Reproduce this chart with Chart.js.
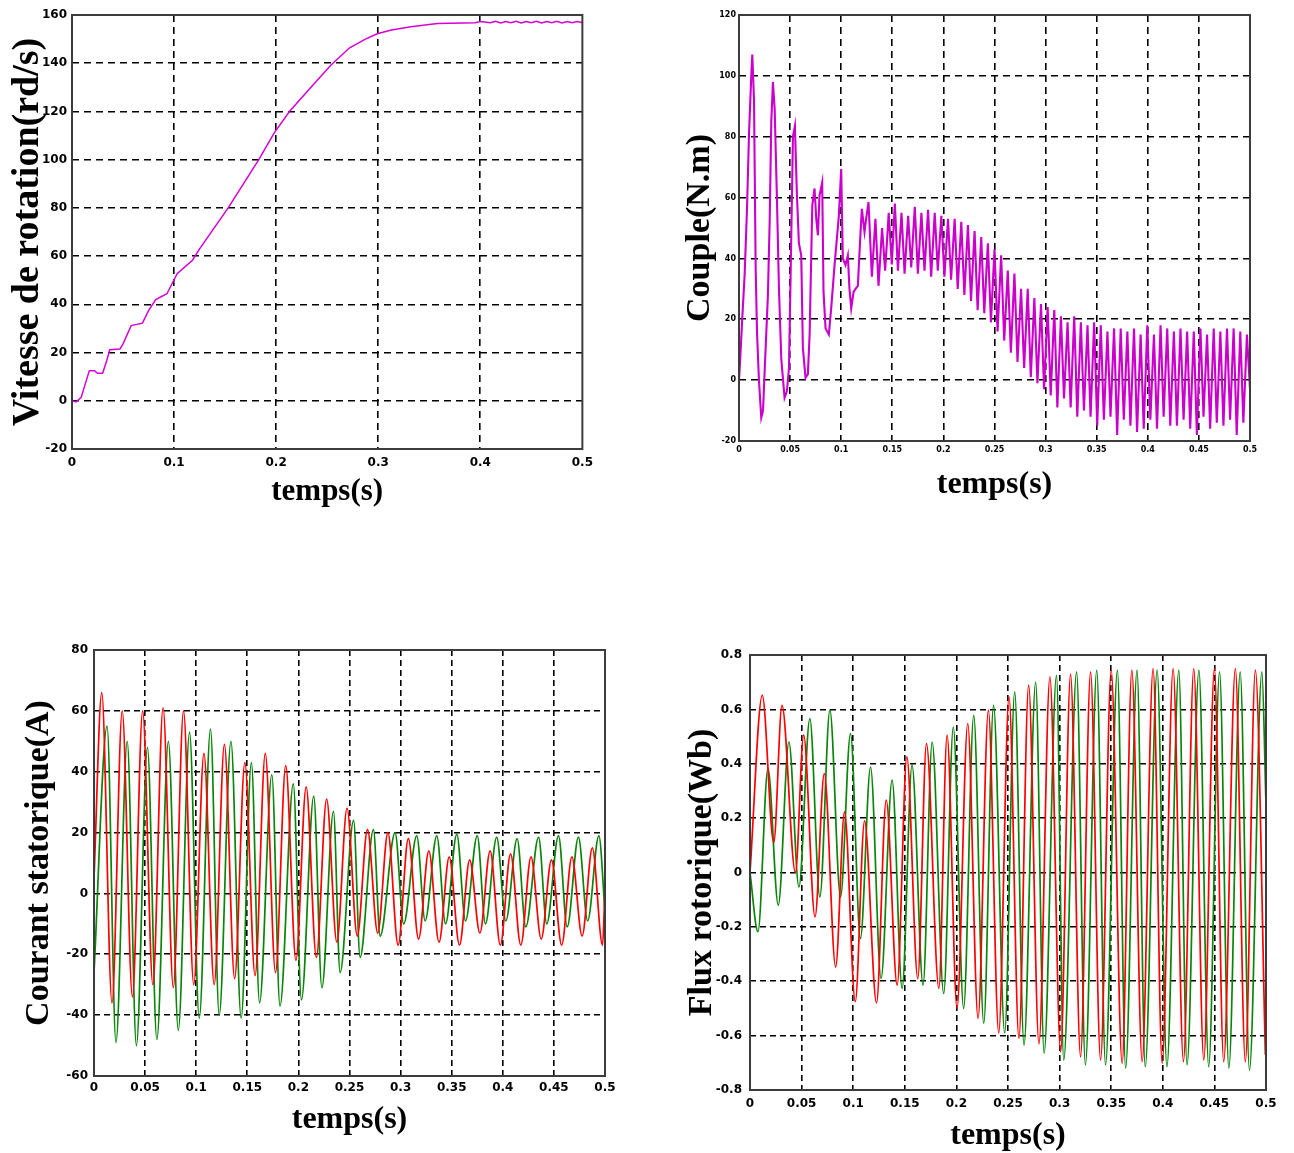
<!DOCTYPE html>
<html>
<head>
<meta charset="utf-8">
<title>Démarrage de la machine asynchrone</title>
<script src="https://cdn.jsdelivr.net/npm/chart.js@4.4.1/dist/chart.umd.min.js"></script>
<style>
  html, body { margin: 0; padding: 0; background: #ffffff; width: 1294px; height: 1153px; overflow: hidden; }
  canvas { position: absolute; }
</style>
</head>
<body>
<canvas id="cSpeed"  width="600" height="520" style="left:0px;top:0px"></canvas>
<canvas id="cTorque" width="620" height="520" style="left:660px;top:0px"></canvas>
<canvas id="cCurrent" width="640" height="553" style="left:0px;top:600px"></canvas>
<canvas id="cFlux"   width="634" height="560" style="left:660px;top:600px"></canvas>
<script>
// ---------- Vitesse de rotation (rd/s) ----------
const speedTime = [0, 0.004, 0.009, 0.013, 0.017, 0.022, 0.025, 0.030, 0.034, 0.037,
  0.047, 0.050, 0.058, 0.069, 0.075, 0.082, 0.093, 0.103, 0.118, 0.125,
  0.153, 0.183, 0.198, 0.213, 0.235, 0.254, 0.272, 0.287, 0.299, 0.313,
  0.332, 0.358, 0.395, 0.400, 0.410, 0.415, 0.420, 0.425, 0.430, 0.435,
  0.440, 0.445, 0.450, 0.455, 0.460, 0.465, 0.470, 0.475, 0.480, 0.485,
  0.490, 0.495, 0.500];
const speedValue = [0, -0.5, 1.4, 7, 12.5, 12.5, 11.4, 11.4, 16.6, 21.2,
  21.5, 23.6, 31.2, 32.2, 37.4, 42, 44.4, 52.7, 58.3, 63,
  80, 100, 111, 120, 130.4, 139.4, 146.4, 149.9, 152.2, 153.8,
  155.1, 156.5, 156.8, 157.3, 156.8, 157.4, 156.7, 157.3, 156.8, 157.4,
  156.7, 157.3, 156.8, 157.4, 156.7, 157.3, 156.8, 157.4, 156.7, 157.3,
  156.8, 157.3, 156.8];

// ---------- Couple électromagnétique (N.m) ----------
const torqueTime = [0, 0.0013, 0.0033, 0.0055, 0.0078, 0.0098, 0.0120, 0.0130, 0.0147, 0.0163,
  0.0176, 0.0195, 0.0218, 0.0235, 0.0251, 0.0283, 0.0300, 0.0316, 0.0332, 0.0349,
  0.0371, 0.0391, 0.0414, 0.0446, 0.0469, 0.0489, 0.0505, 0.0528, 0.0547, 0.0567,
  0.0586, 0.0609, 0.0625, 0.0651, 0.0674, 0.0691, 0.0717, 0.0739, 0.0756, 0.0772,
  0.0788, 0.0814, 0.0827, 0.0847, 0.0879, 0.0902, 0.0935, 0.0977, 0.1000, 0.1016,
  0.1042, 0.1065, 0.1081, 0.1098, 0.1121, 0.1140, 0.1163, 0.1186, 0.1202, 0.1228,
  0.1244, 0.1267, 0.1300, 0.1335, 0.1365, 0.1400, 0.1430, 0.1465, 0.1495, 0.1525,
  0.1555, 0.1590, 0.1620, 0.1655, 0.1685, 0.1720, 0.1750, 0.1785, 0.1815, 0.1850,
  0.1880, 0.1915, 0.1945, 0.1980, 0.2010, 0.2045, 0.2075, 0.2110, 0.2140, 0.2175,
  0.2205, 0.2240, 0.2270, 0.2305, 0.2335, 0.2370, 0.2400, 0.2435, 0.2465, 0.2500,
  0.2530, 0.2565, 0.2595, 0.2630, 0.2660, 0.2695, 0.2725, 0.2760, 0.2790, 0.2825,
  0.2855, 0.2890, 0.2920, 0.2955, 0.2985, 0.3020, 0.3050, 0.3085, 0.3115, 0.3150,
  0.3180, 0.3215, 0.3245, 0.3280, 0.3310, 0.3345, 0.3375, 0.3410, 0.3440, 0.3475,
  0.3505, 0.3540, 0.3570, 0.3605, 0.3635, 0.3670, 0.3700, 0.3735, 0.3765, 0.3800,
  0.3830, 0.3865, 0.3895, 0.3930, 0.3960, 0.3995, 0.4025, 0.4060, 0.4090, 0.4125,
  0.4155, 0.4190, 0.4220, 0.4255, 0.4285, 0.4320, 0.4350, 0.4385, 0.4415, 0.4450,
  0.4480, 0.4515, 0.4545, 0.4580, 0.4610, 0.4645, 0.4675, 0.4710, 0.4740, 0.4775,
  0.4805, 0.4840, 0.4870, 0.4905, 0.4935, 0.4970, 0.5000];
const torqueValue = [0, 7.8, 21, 34.5, 56, 81, 100, 107, 92, 37,
  16, 0, -12.3, -10, 3, 28, 52, 85, 98, 89,
  60, 30, 6.8, -5.8, -3.6, 4, 34.5, 80, 83.5, 60.7,
  45, 41, 10.6, 0.8, 2, 15, 57.4, 63, 53, 47.6,
  60.7, 65, 29, 17, 15, 23.6, 37.8, 54, 69.4, 40,
  37.8, 41, 30, 23.6, 29, 30, 31, 46.5, 56.3, 48.7,
  53, 58.5, 34, 53, 31, 50, 36, 55, 38, 58,
  36, 55, 35, 54, 37, 57, 35, 55, 36, 56,
  34, 55, 36, 54, 34, 53, 33, 53, 30, 52,
  28, 51, 26, 49, 23, 47, 22, 45, 19, 43,
  16, 41, 13, 36, 9, 35, 6, 30, 4, 30,
  1, 27, -1, 25, -3, 24, -5, 23, -9, 21,
  -6, 19, -9, 21, -12, 19, -10, 18, -12, 19,
  -15, 18, -13, 16, -12, 17, -18, 17, -13, 16,
  -15, 17, -17, 15, -16, 18, -13, 15, -16, 18,
  -12, 17, -15, 16, -15, 17, -13, 16, -16, 16,
  -18, 17, -12, 15, -16, 17, -14, 16, -15, 17,
  -13, 17, -18, 16, -14, 15, -3];

// ---------- Courant statorique (A) : phases a (rouge) et b (vert) ----------
const currentTimeA = [0, 0.0076, 0.0176, 0.0276, 0.0376, 0.0476, 0.0576, 0.0676, 0.0776, 0.0876,
  0.0976, 0.1076, 0.1176, 0.1276, 0.1376, 0.1476, 0.1576, 0.1676, 0.1776, 0.1876,
  0.1976, 0.2076, 0.2176, 0.2276, 0.2376, 0.2476, 0.2576, 0.2676, 0.2776, 0.2876,
  0.2976, 0.3076, 0.3176, 0.3276, 0.3376, 0.3476, 0.3576, 0.3676, 0.3776, 0.3876,
  0.3976, 0.4076, 0.4176, 0.4276, 0.4376, 0.4476, 0.4576, 0.4676, 0.4776, 0.4876,
  0.4976, 0.5000];
const currentValueA = [5, 66, -36, 60, -34, 60, -30, 61, -31, 60,
  -30, 46, -30, 49, -28, 43, -27, 46, -26, 42,
  -22, 35, -21, 31, -16, 28, -14, 21, -13, 20,
  -17, 18, -15, 14, -16, 12, -17, 11, -13, 14,
  -17, 13, -17, 12, -15, 11, -17, 12, -14, 15,
  -17, 2];
const currentTimeB = [0, 0.0128, 0.0215, 0.0325, 0.0415, 0.0523, 0.0615, 0.0728, 0.0825, 0.0935,
  0.1030, 0.1140, 0.1225, 0.1340, 0.1440, 0.1540, 0.1620, 0.1740, 0.1820, 0.1950,
  0.2030, 0.2150, 0.2230, 0.2343, 0.2408, 0.2540, 0.2604, 0.2734, 0.2800, 0.2946,
  0.3030, 0.3158, 0.3240, 0.3354, 0.3440, 0.3550, 0.3635, 0.3750, 0.3830, 0.3940,
  0.4030, 0.4140, 0.4225, 0.4350, 0.4430, 0.4545, 0.4630, 0.4740, 0.4830, 0.4940,
  0.5000];
const currentValueB = [-26, 55, -49, 50, -50, 48, -48, 50, -45, 53,
  -41, 54, -40, 50, -41, 43, -36, 39, -37, 36,
  -35, 32, -31, 27, -26, 24, -21, 21, -14, 20,
  -10, 19, -9, 19, -10, 19.5, -9, 19, -10, 18.5,
  -9, 18, -11, 18.5, -10, 19, -11, 18.5, -9, 19,
  -6];

// ---------- Flux rotorique (Wb) : composantes rouge et verte ----------
const fluxTimeA = [0, 0.0119, 0.0230, 0.0310, 0.0440, 0.0520, 0.0630, 0.0720, 0.0830, 0.0916,
  0.1020, 0.1110, 0.1226, 0.1320, 0.1426, 0.1520, 0.1626, 0.1710, 0.1830, 0.1910,
  0.2006, 0.2110, 0.2210, 0.2310, 0.2410, 0.2510, 0.2606, 0.2700, 0.2800, 0.2906,
  0.3010, 0.3106, 0.3203, 0.3300, 0.3397, 0.3500, 0.3606, 0.3700, 0.3800, 0.3906,
  0.3994, 0.4100, 0.4200, 0.4300, 0.4397, 0.4500, 0.4590, 0.4703, 0.4800, 0.4897,
  0.4994];
const fluxValueA = [0, 0.652, 0.11, 0.615, 0.0, 0.505, -0.163, 0.364, -0.347, 0.223,
  -0.475, 0.19, -0.48, 0.266, -0.414, 0.425, -0.39, 0.474, -0.426, 0.505,
  -0.5, 0.548, -0.537, 0.597, -0.59, 0.646, -0.61, 0.689, -0.63, 0.72,
  -0.66, 0.73, -0.678, 0.738, -0.69, 0.744, -0.702, 0.744, -0.696, 0.75,
  -0.702, 0.75, -0.696, 0.75, -0.69, 0.75, -0.696, 0.75, -0.696, 0.744,
  -0.67];
const fluxTimeB = [0, 0.0077, 0.0174, 0.0274, 0.0377, 0.0474, 0.0580, 0.0677, 0.0774, 0.0877,
  0.0974, 0.1070, 0.1168, 0.1270, 0.1377, 0.1474, 0.1570, 0.1677, 0.1765, 0.1877,
  0.1970, 0.2070, 0.2168, 0.2265, 0.2360, 0.2468, 0.2565, 0.2655, 0.2768, 0.2850,
  0.2970, 0.3040, 0.3165, 0.3250, 0.3360, 0.3445, 0.3560, 0.3640, 0.3750, 0.3830,
  0.3945, 0.4040, 0.4155, 0.4235, 0.4350, 0.4445, 0.4550, 0.4640, 0.4750, 0.4840,
  0.4960, 0.5000];
const fluxValueB = [0, -0.218, 0.382, -0.12, 0.48, -0.053, 0.566, -0.09, 0.597, -0.09,
  0.511, -0.243, 0.388, -0.39, 0.34, -0.426, 0.395, -0.414, 0.48, -0.445,
  0.535, -0.5, 0.578, -0.555, 0.615, -0.59, 0.664, -0.635, 0.70, -0.665,
  0.725, -0.69, 0.738, -0.708, 0.744, -0.708, 0.744, -0.72, 0.744, -0.714,
  0.744, -0.714, 0.744, -0.708, 0.744, -0.714, 0.738, -0.72, 0.738, -0.727,
  0.738, 0.25];

// ---------- Graduations ----------
const timeTicksCoarse = [0, 0.1, 0.2, 0.3, 0.4, 0.5];
const timeTicksFine = [0, 0.05, 0.1, 0.15, 0.2, 0.25, 0.3, 0.35, 0.4, 0.45, 0.5];
const speedTicks = [-20, 0, 20, 40, 60, 80, 100, 120, 140, 160];
const torqueTicks = [-20, 0, 20, 40, 60, 80, 100, 120];
const currentTicks = [-60, -40, -20, 0, 20, 40, 60, 80];
const fluxTicks = [-0.8, -0.6, -0.4, -0.2, 0, 0.2, 0.4, 0.6, 0.8];

// ---------- Helpers ----------
function toPoints(ts, vs) { return ts.map((t, i) => ({ x: t, y: vs[i] })); }

// Closed axes box drawn over the plotting area, like a MATLAB figure
const boxPlugin = {
  id: 'box',
  afterDatasetsDraw(chart) {
    const { ctx, chartArea: a } = chart;
    ctx.save();
    ctx.strokeStyle = '#3c3c3c';
    ctx.lineWidth = 2;
    ctx.strokeRect(a.left, a.top, a.right - a.left, a.bottom - a.top);
    ctx.restore();
  }
};

const TICK_FONT = 'DejaVu Sans';
const TITLE_FONT = 'Liberation Serif';

// Inner grid lines only: the outer ones are covered by the box
function innerGridColor(count) {
  return c => (c.index === 0 || c.index === count - 1) ? 'rgba(0,0,0,0)' : '#000';
}

function buildChart(id, o) {
  const lineBase = { pointRadius: 0, fill: false, borderJoinStyle: 'miter' };
  return new Chart(document.getElementById(id), {
    type: 'line',
    data: { datasets: o.datasets.map(d => Object.assign({}, lineBase, d)) },
    plugins: [boxPlugin],
    options: {
      responsive: false,
      animation: false,
      devicePixelRatio: 1,
      parsing: false,
      normalized: true,
      layout: { padding: { top: o.padTop, right: o.padRight, left: 0, bottom: 0 } },
      plugins: { legend: { display: false }, tooltip: { enabled: false } },
      scales: {
        x: {
          type: 'linear', min: 0, max: 0.5,
          afterBuildTicks: s => { s.ticks = o.xTicks.map(v => ({ value: v })); },
          afterFit: s => { s.height = o.xHeight; },
          ticks: {
            autoSkip: false, maxRotation: 0, minRotation: 0, padding: o.xTickPad,
            color: '#000', font: { family: TICK_FONT, size: o.tickSize, weight: 'bold' },
            callback: v => String(v)
          },
          grid: { color: innerGridColor(o.xTicks.length), lineWidth: o.gridWidth, drawTicks: false },
          border: { display: false, dash: o.dash },
          title: {
            display: true, text: 'temps(s)', color: '#000',
            font: { family: TITLE_FONT, size: o.xTitleSize, weight: 'bold' },
            padding: { top: 0, bottom: o.xTitlePad }
          }
        },
        y: {
          type: 'linear', min: o.yTicks[0], max: o.yTicks[o.yTicks.length - 1],
          afterBuildTicks: s => { s.ticks = o.yTicks.map(v => ({ value: v })); },
          afterFit: s => { s.width = o.yWidth; },
          ticks: {
            autoSkip: false, padding: o.yTickPad,
            color: '#000', font: { family: TICK_FONT, size: o.tickSize, weight: 'bold' },
            callback: v => String(v)
          },
          grid: { color: innerGridColor(o.yTicks.length), lineWidth: o.gridWidth, drawTicks: false },
          border: { display: false, dash: o.dash },
          title: {
            display: true, text: o.yTitle, color: '#000',
            font: { family: TITLE_FONT, size: o.yTitleSize, weight: 'bold' },
            padding: { top: o.yTitlePad, bottom: 0 }
          }
        }
      }
    }
  });
}

// Vitesse de rotation
buildChart('cSpeed', {
  padTop: 15, padRight: 15, yWidth: 72, xHeight: 71,
  xTicks: timeTicksCoarse, yTicks: speedTicks,
  tickSize: 12, xTickPad: 7, yTickPad: 5,
  gridWidth: 1.6, dash: [7, 5],
  yTitle: 'Vitesse de rotation(rd/s)', yTitleSize: 38, yTitlePad: 5,
  xTitleSize: 31, xTitlePad: 9,
  datasets: [{ data: toPoints(speedTime, speedValue), borderColor: '#d600d6', borderWidth: 1.5 }]
});

// Couple électromagnétique
buildChart('cTorque', {
  padTop: 15, padRight: 30, yWidth: 79, xHeight: 79,
  xTicks: timeTicksFine, yTicks: torqueTicks,
  tickSize: 8, xTickPad: 4, yTickPad: 3,
  gridWidth: 1.6, dash: [7, 5],
  yTitle: 'Couple(N.m)', yTitleSize: 34, yTitlePad: 20,
  xTitleSize: 32, xTitlePad: 16,
  datasets: [{ data: toPoints(torqueTime, torqueValue), borderColor: '#cc00cc', borderWidth: 2.1 }]
});

// Courant statorique
buildChart('cCurrent', {
  padTop: 50, padRight: 35, yWidth: 94, xHeight: 77,
  xTicks: timeTicksFine, yTicks: currentTicks,
  tickSize: 12, xTickPad: 5, yTickPad: 6,
  gridWidth: 1.6, dash: [6, 4],
  yTitle: 'Courant statorique(A)', yTitleSize: 34, yTitlePad: 19,
  xTitleSize: 32, xTitlePad: 14,
  datasets: [
    { data: toPoints(currentTimeA, currentValueA), borderColor: '#ff0000', borderWidth: 1.7, cubicInterpolationMode: 'monotone' },
    { data: toPoints(currentTimeB, currentValueB), borderColor: '#0a850a', borderWidth: 1.7, cubicInterpolationMode: 'monotone' }
  ]
});

// Flux rotorique
buildChart('cFlux', {
  padTop: 55, padRight: 28, yWidth: 90, xHeight: 70,
  xTicks: timeTicksFine, yTicks: fluxTicks,
  tickSize: 12, xTickPad: 7, yTickPad: 8,
  gridWidth: 1.6, dash: [6, 4],
  yTitle: 'Flux rotorique(Wb)', yTitleSize: 34, yTitlePad: 22,
  xTitleSize: 32, xTitlePad: 5,
  datasets: [
    { data: toPoints(fluxTimeA, fluxValueA), borderColor: '#ff0000', borderWidth: 1.7, cubicInterpolationMode: 'monotone' },
    { data: toPoints(fluxTimeB, fluxValueB), borderColor: '#0a850a', borderWidth: 1.7, cubicInterpolationMode: 'monotone' }
  ]
});
</script>
</body>
</html>
